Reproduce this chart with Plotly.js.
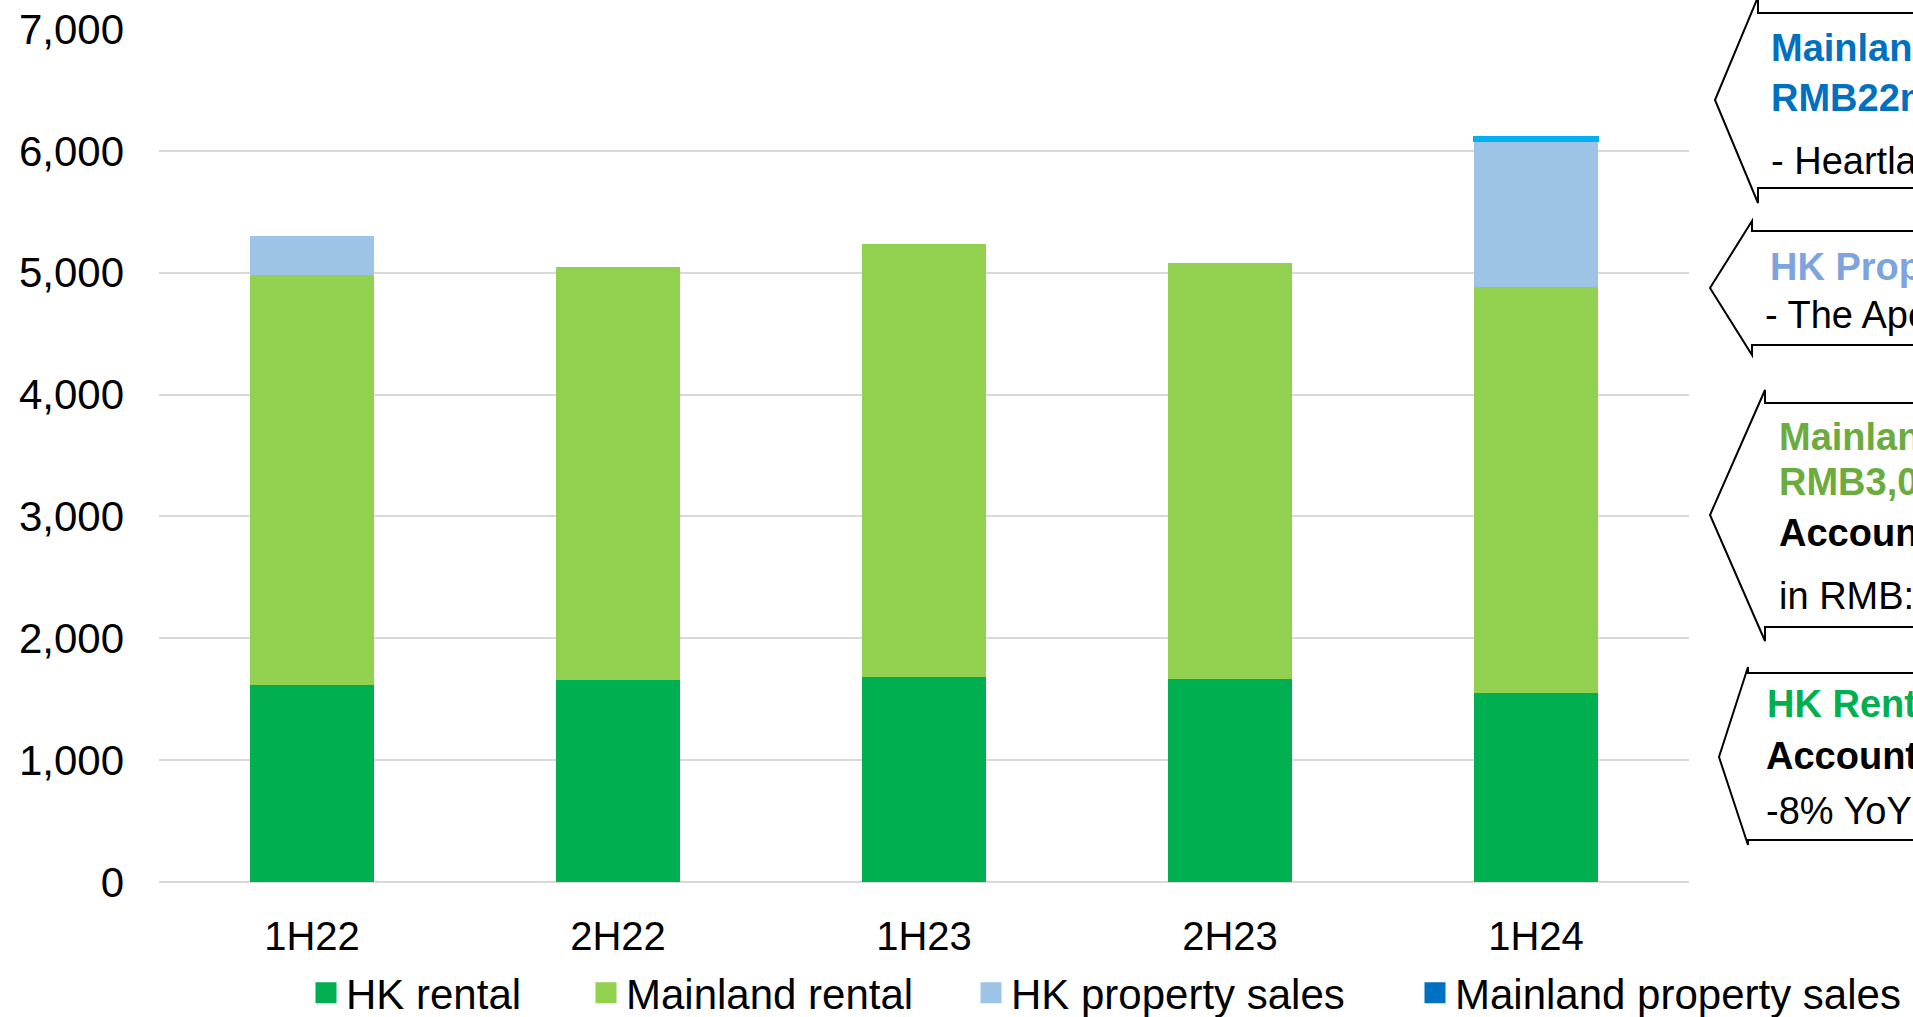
<!DOCTYPE html>
<html>
<head>
<meta charset="utf-8">
<script src="https://cdn.plot.ly/plotly-3.0.1.min.js"></script>
<style>
html,body{margin:0;padding:0;background:#fff;overflow:hidden;}
#chart{width:1913px;height:1017px;}
</style>
</head>
<body>
<div id="chart"></div>
<script>
// ---- data ----
const periods = ["1H22", "2H22", "1H23", "2H23", "1H24"];
const hkRental = [1620, 1655, 1680, 1663, 1551];
const mainlandRental = [3362, 3389, 3555, 3417, 3332];
const hkPropertySales = [320, null, null, null, 1200];
const mainlandPropertySales = [null, null, null, null, 25];
const seriesNames = ["HK rental", "Mainland rental", "HK property sales", "Mainland property sales"];
const yTickValues = [0, 1000, 2000, 3000, 4000, 5000, 6000, 7000];

// callout texts (clipped at the right edge in the original)
const callout1 = ["Mainland Property Sales", "RMB22m", "- Heartland 66"];
const callout2 = ["HK Property Sales", "- The Aperture"];
const callout3 = ["Mainland Rental", "RMB3,048m", "Accounted for 55%", "in RMB: -1% YoY"];
const callout4 = ["HK Rental", "Accounted for 26%", "-8% YoY"];

// ---- layout geometry (pixels) ----
const W = 1913, H = 1017;
const L = 159, R = 1689, T = 29, B = 882;
const px = x => (x - L) / (R - L);
const py = y => (B - y) / (B - T);
const FONT = "Arial, 'Liberation Sans', sans-serif";

const colors = ["#00B050", "#92D050", "#9DC3E6", "#0070C0"];
const values = [hkRental, mainlandRental, hkPropertySales, mainlandPropertySales];
const legendIds = ["legend", "legend2", "legend3", "legend4"];

const barTraces = values.map((v, i) => ({
  type: "bar",
  name: seriesNames[i],
  x: periods,
  y: v,
  marker: {
    color: colors[i],
    line: i === 3 ? {color: "#00B0F0", width: 3} : {width: 0}
  },
  showlegend: false,
  hoverinfo: "skip"
}));
// legend entries (square keys like the original); no visible point
const legendTraces = seriesNames.map((n, i) => ({
  type: "scatter",
  mode: "markers",
  name: n,
  x: [periods[0]],
  y: [null],
  marker: {symbol: "square", size: 16, color: colors[i], line: {color: colors[i], width: 5}},
  legend: legendIds[i],
  showlegend: true,
  hoverinfo: "skip"
}));

function calloutPath(pts) {
  return pts.map((p, i) => (i === 0 ? "M" : "L") + px(p[0]).toFixed(5) + "," + py(p[1]).toFixed(5)).join(" ");
}
const shapeDefs = [
  [[1960,13],[1758,13],[1758,-3],[1715,100],[1758,203],[1758,188],[1960,188]],
  [[1960,231],[1752,231],[1752,221],[1710,288],[1752,355],[1752,345],[1960,345]],
  [[1960,403],[1765,403],[1765,390],[1710,515],[1765,641],[1765,627],[1960,627]],
  [[1960,673],[1748,673],[1748,667],[1719,757],[1748,845],[1748,840],[1960,840]]
];
const shapes = shapeDefs.map(p => ({
  type: "path", xref: "paper", yref: "paper",
  path: calloutPath(p),
  line: {color: "#000000", width: 2},
  fillcolor: "rgba(255,255,255,0)"
}));

// annotation lines: [text, xStart, baseline, color, bold]
const FS = 38;
const lines = [
  [callout1[0], 1772, 62, "#0070C0", true],
  [callout1[1], 1772, 112, "#0070C0", true],
  [callout1[2], 1772, 175, "#000000", false],
  [callout2[0], 1771, 281, "#7FA3DC", true],
  [callout2[1], 1766, 329, "#000000", false],
  [callout3[0], 1780, 451, "#6CAC3E", true],
  [callout3[1], 1780, 496, "#6CAC3E", true],
  [callout3[2], 1780, 547, "#000000", true],
  [callout3[3], 1780, 610, "#000000", false],
  [callout4[0], 1768, 718, "#00B050", true],
  [callout4[1], 1767, 770, "#000000", true],
  [callout4[2], 1767, 825, "#000000", false]
];
const annotations = lines.map(l => ({
  xref: "paper", yref: "paper",
  x: px(l[1] - 3), y: py(l[2] - 0.36 * FS),
  xanchor: "left", yanchor: "middle",
  showarrow: false,
  text: l[4] ? "<b>" + l[0] + "</b>" : l[0],
  font: {family: FONT, size: FS, color: l[3]},
  align: "left"
}));

// legends: text start positions
const legendTextStarts = [346, 626, 1011, 1455];
const legendCommon = {
  orientation: "h",
  yanchor: "middle",
  xanchor: "left",
  y: py(993),
  bgcolor: "rgba(0,0,0,0)",
  borderwidth: 0,
  font: {family: FONT, size: 42, color: "#000000"}
};
const layout = {
  width: W, height: H,
  margin: {l: L, r: W - R, t: T, b: H - B, pad: 0, autoexpand: false},
  paper_bgcolor: "#ffffff",
  plot_bgcolor: "#ffffff",
  barmode: "stack",
  bargap: 0.598,
  hovermode: false,
  showlegend: true,
  font: {family: FONT, color: "#000000"},
  xaxis: {
    type: "category",
    tickfont: {family: FONT, size: 40, color: "#000000"},
    ticks: "",
    showgrid: false,
    showline: false,
    zeroline: false,
    ticklabelstandoff: 27,
    fixedrange: true
  },
  yaxis: {
    range: [0, 7000],
    tickvals: yTickValues,
    tickformat: ",d",
    tickfont: {family: FONT, size: 42, color: "#000000"},
    ticks: "",
    showgrid: true,
    gridcolor: "#D9D9D9",
    gridwidth: 2,
    zeroline: true,
    zerolinecolor: "#D9D9D9",
    zerolinewidth: 2,
    showline: false,
    ticklabelstandoff: 34,
    fixedrange: true
  },
  shapes: shapes,
  annotations: annotations
};
legendIds.forEach((id, i) => {
  layout[id] = Object.assign({}, legendCommon, {x: px(legendTextStarts[i] - 40)});
});

Plotly.newPlot("chart", barTraces.concat(legendTraces), layout, {staticPlot: true, displayModeBar: false});
</script>
</body>
</html>
